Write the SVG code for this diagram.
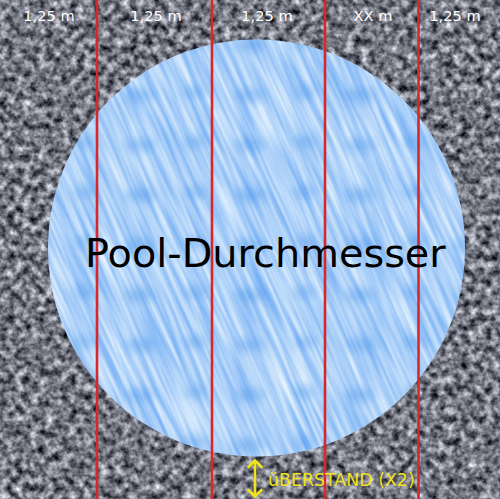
<svg xmlns="http://www.w3.org/2000/svg" width="500" height="499" viewBox="0 0 500 499">
  <style>
    .lbl { font-family: "DejaVu Sans", "Liberation Sans", sans-serif; font-size: 14.6px; fill: #ffffff; text-anchor: middle; }
    .title { font-family: "DejaVu Sans", "Liberation Sans", sans-serif; font-size: 39.8px; fill: #000000; }
    .yel { font-family: "DejaVu Sans", "Liberation Sans", sans-serif; font-size: 17.4px; fill: #f2e21e; }
    .red { stroke: #d6282c; stroke-width: 2.6; fill: none; }
    .arr { stroke: #f2e21e; stroke-width: 2.6; fill: none; stroke-linecap: round; stroke-linejoin: round; }
  </style>
  <defs>
    <filter id="gravel" x="0" y="0" width="100%" height="100%" color-interpolation-filters="sRGB">
      <feTurbulence type="fractalNoise" baseFrequency="0.13" numOctaves="3" seed="7" result="n"/>
      <feColorMatrix in="n" type="matrix" values="1.25 0 0 0 -0.17  1.25 0 0 0 -0.16  1.25 0 0 0 -0.12  0 0 0 0 1"/>
    </filter>
    <filter id="water" x="-10%" y="-10%" width="120%" height="120%" color-interpolation-filters="sRGB">
      <feTurbulence type="fractalNoise" baseFrequency="0.2 0.012" numOctaves="2" seed="3" result="n"/>
      <feColorMatrix in="n" type="matrix" values="-0.6 0 0 0 0.98  -0.36 0 0 0 1.0  -0.05 0 0 0 1.0  0 0 0 0 1"/>
    </filter>
    <filter id="blur" x="-50%" y="-50%" width="200%" height="200%">
      <feGaussianBlur stdDeviation="5"/>
    </filter>
    <pattern id="blobs" x="0" y="70" width="110" height="50" patternUnits="userSpaceOnUse">
      <g filter="url(#blur)" fill="#3f8fe8" opacity="0.4">
        <ellipse cx="30" cy="25" rx="16" ry="7"/>
        <ellipse cx="85" cy="22" rx="12" ry="6"/>
      </g>
    </pattern>
    <clipPath id="poolClip">
      <circle cx="256.5" cy="248" r="208.5"/>
    </clipPath>
  </defs>

  <g id="ground">
    <rect x="0" y="0" width="500" height="499" fill="#6f6f75"/>
    <rect x="0" y="0" width="500" height="499" filter="url(#gravel)"/>
  </g>

  <g id="pool" clip-path="url(#poolClip)">
    <g transform="rotate(-24 256 248)">
      <rect x="-100" y="-100" width="720" height="700" filter="url(#water)"/>
    </g>
    <rect x="40" y="30" width="440" height="440" fill="url(#blobs)"/>
  </g>

  <g id="connectors">
    <line class="red" x1="97" y1="0" x2="97" y2="499"/>
    <line class="red" x1="212" y1="0" x2="212" y2="499"/>
    <line class="red" x1="325" y1="0" x2="325" y2="499"/>
    <line class="red" x1="418.5" y1="0" x2="418.5" y2="499"/>
  </g>

  <g id="labels-top">
    <text class="lbl" x="49" y="21">1,25 m</text>
    <text class="lbl" x="156" y="21">1,25 m</text>
    <text class="lbl" x="267" y="21">1,25 m</text>
    <text class="lbl" x="373" y="21">XX m</text>
    <text class="lbl" x="455" y="21">1,25 m</text>
  </g>

  <g id="title">
    <text class="title" x="85" y="267">Pool-Durchmesser</text>
  </g>

  <g id="overhang">
    <line class="arr" x1="255" y1="461" x2="255" y2="496"/>
    <polyline class="arr" points="248.5,467 255,460.5 261.5,467"/>
    <polyline class="arr" points="248.5,490 255,496.5 261.5,490"/>
    <text class="yel" x="268" y="486">üBERSTAND (X2)</text>
  </g>
</svg>
